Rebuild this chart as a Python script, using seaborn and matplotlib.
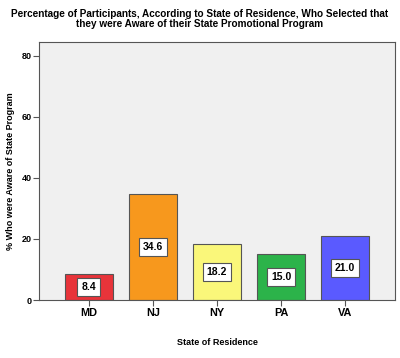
import matplotlib
matplotlib.use('Agg')
import matplotlib.pyplot as plt
import seaborn as sns
import pandas as pd

# Données
states = ['MD', 'NJ', 'NY', 'PA', 'VA']
aware_pct = [8.4, 34.6, 18.2, 15.0, 21.0]
bar_colors = ['#E8343A', '#F7981D', '#FAF77A', '#2CB34A', '#5A5AFF']
y_ticks = [0, 20, 40, 60, 80]

df = pd.DataFrame({'state': states, 'pct': aware_pct})

sns.set_style('white')
plt.rcParams['font.family'] = ['Liberation Sans', 'DejaVu Sans']
plt.rcParams['font.weight'] = 'bold'
plt.rcParams['text.color'] = 'black'
plt.rcParams['axes.labelcolor'] = 'black'
plt.rcParams['xtick.color'] = 'black'
plt.rcParams['ytick.color'] = 'black'

fig = plt.figure(figsize=(4.0, 3.58), dpi=100)
ax = fig.add_axes([0.0975, 0.162, 0.89, 0.721])
ax.set_facecolor('#F0F0F0')

sns.barplot(data=df, x='state', y='pct', hue='state', palette=bar_colors,
            saturation=1, width=0.75, edgecolor='#555555', linewidth=0.8,
            legend=False, ax=ax)

# Étiquettes de valeur au milieu des barres
for i, v in enumerate(aware_pct):
    ax.text(i, v / 2, f'{v:.1f}', ha='center', va='center', fontsize=7.5,
            fontweight='bold', color='black',
            bbox=dict(boxstyle='square,pad=0.4', facecolor='white',
                      edgecolor='#555555', linewidth=0.8))

ax.set_xlim(-0.78, 4.78)
ax.set_ylim(0, 84.6)
ax.set_yticks(y_ticks)
ax.set_yticklabels([str(t) for t in y_ticks], fontsize=6.5)
ax.tick_params(axis='x', labelsize=7.8, length=4, width=0.8, direction='out', pad=2,
               color='#555555')
ax.tick_params(axis='y', length=4, width=0.8, direction='out', pad=1, color='#555555')
ax.tick_params(bottom=True, left=True)
for s in ax.spines.values():
    s.set_color('#555555')
    s.set_linewidth(0.8)

ax.set_xlabel('State of Residence', fontsize=6.5, fontweight='bold', labelpad=14)
ax.set_ylabel('% Who were Aware of State Program', fontsize=6.5, fontweight='bold', labelpad=5)

fig.suptitle('Percentage of Participants, According to State of Residence, Who Selected that\n'
             'they were Aware of their State Promotional Program',
             fontsize=7.2, fontweight='bold', y=0.975, linespacing=1.05, color='black')

fig.savefig('out.png', dpi=100)
